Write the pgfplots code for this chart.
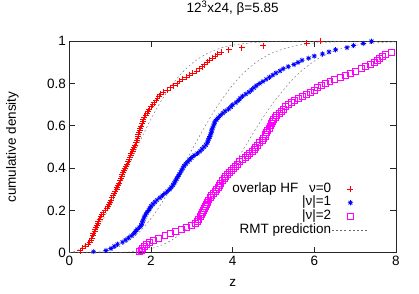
\documentclass[border=0pt]{standalone}
\usepackage{fontspec}
\setmainfont{Liberation Sans}
\usepackage{pgfplots}
\pgfplotsset{compat=1.18}
\definecolor{gpred}{RGB}{255,0,0}
\definecolor{gpblue}{RGB}{0,0,255}
\definecolor{gpmag}{RGB}{255,0,255}
\newcommand{\gpfont}{\fontsize{13.5bp}{15bp}\selectfont}
\pgfdeclareplotmark{plusx}{%
  \pgfpathmoveto{\pgfqpoint{-\pgfplotmarksize}{0pt}}\pgfpathlineto{\pgfqpoint{\pgfplotmarksize}{0pt}}%
  \pgfpathmoveto{\pgfqpoint{0pt}{-\pgfplotmarksize}}\pgfpathlineto{\pgfqpoint{0pt}{\pgfplotmarksize}}%
  \pgfpathmoveto{\pgfqpoint{-.707\pgfplotmarksize}{-.707\pgfplotmarksize}}\pgfpathlineto{\pgfqpoint{.707\pgfplotmarksize}{.707\pgfplotmarksize}}%
  \pgfpathmoveto{\pgfqpoint{-.707\pgfplotmarksize}{.707\pgfplotmarksize}}\pgfpathlineto{\pgfqpoint{.707\pgfplotmarksize}{-.707\pgfplotmarksize}}%
  \pgfusepathqstroke}
\tikzset{rmt/.style={draw=black!60, line width=0.4pt, dash pattern=on 1.8pt off 2.4pt}}
\begin{document}
\begin{tikzpicture}[font=\gpfont]
\useasboundingbox (-69.3bp,-41.3bp) rectangle (349.7bp,252.7bp);
\begin{axis}[
  scale only axis, width=326.7bp, height=211.4bp,
  xmin=0, xmax=8, ymin=0, ymax=1,
  xtick={0,2,4,6,8}, ytick={0,0.2,0.4,0.6,0.8,1},
  tick pos=both, tick align=inside, major tick length=5.5bp,
  axis line style={line width=0.8pt, black!85},
  every tick/.style={black!85, line width=0.8pt},
  tick label style={font=\gpfont},
  label style={font=\gpfont},
  /pgf/number format/assume math mode=true,
  /pgf/number format/fixed,
  title={12\textsuperscript{3}x24, β=5.85},
  title style={at={(axis description cs:0.5,1.129)}, anchor=center, inner sep=0pt, font=\gpfont},
  xlabel={z}, ylabel={cumulative density},
  every axis x label/.style={at={(axis description cs:0.5,-0.143)}, anchor=center},
  every axis y label/.style={at={(axis description cs:-0.174,0.5)}, rotate=90, anchor=center},
  legend cell align=right, legend plot pos=right,
  legend image code/.code={\draw[mark repeat=2,mark phase=2] plot coordinates {(0bp,0bp) (18.5bp,0bp) (37bp,0bp)};},
  legend style={draw=none, fill=none, at={(axis cs:7.42,0.204)}, anchor=east, font=\gpfont,
    nodes={inner sep=0.5bp, text height=9.5bp, text depth=3.2bp},
    /tikz/every even column/.append style={column sep=6bp}},
]
\addplot[forget plot, smooth, rmt, mark=none] coordinates {
(0,0)(0.25,0.0155)(0.5,0.0606)(0.75,0.1312)(1,0.2212)(1.25,0.3233)(1.5,0.4302)(1.75,0.5350)(2,0.6321)(2.25,0.7180)(2.5,0.7904)(2.75,0.8491)(3,0.8946)(3.25,0.9287)(3.5,0.9532)(3.75,0.9703)(4,0.9817)(4.5,0.9937)(5,0.9981)(5.5,0.9995)(6,0.9999)(7,1.0)(8,1.0)
};
\addplot[forget plot, smooth, rmt, mark=none] coordinates {
(0,0)(0.5,0.0010)(0.75,0.0047)(1,0.0140)(1.25,0.0321)(1.5,0.0617)(1.75,0.1047)(2,0.1614)(2.25,0.2308)(2.5,0.3104)(2.75,0.3968)(3,0.4856)(3.25,0.5729)(3.5,0.6549)(3.75,0.7289)(4,0.7930)(4.25,0.8464)(4.5,0.8894)(4.75,0.9226)(5,0.9474)(5.5,0.9778)(6,0.9917)(6.5,0.9973)(7,0.9992)(8,1.0)
};
\addplot[forget plot, smooth, rmt, mark=none] coordinates {
(0,0)(1,0.0004)(1.5,0.0040)(1.75,0.0094)(2,0.0191)(2.25,0.0350)(2.5,0.0590)(2.75,0.0926)(3,0.1365)(3.25,0.1910)(3.5,0.2552)(3.75,0.3273)(4,0.4050)(4.25,0.4852)(4.5,0.5647)(4.75,0.6408)(5,0.7108)(5.5,0.8266)(6,0.9065)(6.5,0.9548)(7,0.9805)(7.5,0.9925)(8,0.9974)
};
\addplot[only marks, mark=+, mark size=3pt, gpred, line width=0.7pt] coordinates {
(0.26,0.01)(0.33,0.02)(0.40,0.03)(0.46,0.04)(0.50,0.05)(0.53,0.06)(0.55,0.07)(0.57,0.08)(0.59,0.09)(0.62,0.10)(0.64,0.11)(0.66,0.12)(0.68,0.13)(0.70,0.14)(0.71,0.15)(0.74,0.16)(0.77,0.17)(0.79,0.18)(0.83,0.19)(0.88,0.20)(0.92,0.21)(0.95,0.22)(0.97,0.23)(1.00,0.24)(1.02,0.25)(1.04,0.26)(1.07,0.27)(1.10,0.28)(1.13,0.29)(1.16,0.30)(1.18,0.31)(1.20,0.32)(1.22,0.33)(1.24,0.34)(1.26,0.35)(1.28,0.36)(1.30,0.37)(1.32,0.38)(1.35,0.39)(1.37,0.40)(1.39,0.41)(1.41,0.42)(1.44,0.43)(1.46,0.44)(1.48,0.45)(1.50,0.46)(1.52,0.47)(1.55,0.48)(1.57,0.49)(1.59,0.50)(1.61,0.51)(1.63,0.52)(1.65,0.53)(1.67,0.54)(1.68,0.55)(1.69,0.56)(1.71,0.57)(1.72,0.58)(1.74,0.59)(1.76,0.60)(1.78,0.61)(1.80,0.62)(1.81,0.63)(1.84,0.64)(1.87,0.65)(1.90,0.66)(1.93,0.67)(1.96,0.68)(2.00,0.69)(2.04,0.70)(2.08,0.71)(2.12,0.72)(2.16,0.73)(2.20,0.74)(2.23,0.75)(2.30,0.76)(2.40,0.77)(2.48,0.78)(2.56,0.79)(2.64,0.80)(2.70,0.81)(2.78,0.82)(2.86,0.83)(2.94,0.84)(3.02,0.85)(3.12,0.86)(3.19,0.87)(3.25,0.88)(3.31,0.89)(3.37,0.90)(3.42,0.91)(3.50,0.92)(3.57,0.93)(3.63,0.94)(3.72,0.95)(3.90,0.96)(4.22,0.97)(4.75,0.98)(5.81,0.99)(6.14,1.00)
};
\addlegendentry{overlap HF\hspace{7bp} ν=0}
\addplot[only marks, mark=plusx, mark size=2.6pt, gpblue, line width=0.7pt] coordinates {
(0.59,0.005)(0.90,0.01)(1.02,0.02)(1.10,0.03)(1.18,0.04)(1.30,0.05)(1.38,0.06)(1.45,0.07)(1.52,0.08)(1.58,0.09)(1.62,0.10)(1.66,0.11)(1.72,0.12)(1.76,0.13)(1.78,0.14)(1.80,0.15)(1.82,0.16)(1.84,0.17)(1.87,0.18)(1.90,0.19)(1.94,0.20)(1.97,0.21)(2.00,0.22)(2.05,0.23)(2.10,0.24)(2.15,0.25)(2.22,0.26)(2.28,0.27)(2.34,0.28)(2.40,0.29)(2.46,0.30)(2.50,0.31)(2.54,0.32)(2.57,0.33)(2.60,0.34)(2.63,0.35)(2.66,0.36)(2.69,0.37)(2.72,0.38)(2.75,0.39)(2.78,0.40)(2.81,0.41)(2.85,0.42)(2.90,0.43)(2.95,0.44)(3.00,0.45)(3.06,0.46)(3.14,0.47)(3.20,0.48)(3.25,0.49)(3.30,0.50)(3.35,0.51)(3.38,0.52)(3.40,0.53)(3.42,0.54)(3.44,0.55)(3.46,0.56)(3.48,0.57)(3.49,0.58)(3.51,0.59)(3.53,0.60)(3.55,0.61)(3.57,0.62)(3.61,0.63)(3.65,0.64)(3.70,0.65)(3.76,0.66)(3.82,0.67)(3.90,0.68)(3.96,0.69)(4.00,0.70)(4.08,0.71)(4.14,0.72)(4.18,0.73)(4.24,0.74)(4.32,0.75)(4.40,0.76)(4.46,0.77)(4.52,0.78)(4.58,0.79)(4.66,0.80)(4.74,0.81)(4.82,0.82)(4.90,0.83)(4.98,0.84)(5.06,0.85)(5.16,0.86)(5.24,0.87)(5.36,0.88)(5.50,0.89)(5.60,0.90)(5.70,0.91)(5.86,0.92)(6.00,0.93)(6.20,0.94)(6.36,0.95)(6.52,0.96)(6.80,0.97)(6.96,0.98)(7.20,0.99)(7.40,1.00)
};
\addlegendentry{|ν|=1}
\addplot[only marks, mark=square, mark size=3pt, gpmag, line width=0.7pt] coordinates {
(1.72,0.005)(1.76,0.01)(1.80,0.02)(1.84,0.03)(1.88,0.04)(1.96,0.05)(2.06,0.06)(2.18,0.07)(2.34,0.08)(2.48,0.09)(2.60,0.10)(2.74,0.11)(2.86,0.12)(2.98,0.13)(3.08,0.14)(3.13,0.15)(3.17,0.16)(3.20,0.17)(3.23,0.18)(3.25,0.19)(3.28,0.20)(3.31,0.21)(3.33,0.22)(3.36,0.23)(3.38,0.24)(3.41,0.25)(3.45,0.26)(3.49,0.27)(3.53,0.28)(3.57,0.29)(3.61,0.30)(3.64,0.31)(3.67,0.32)(3.71,0.33)(3.75,0.34)(3.79,0.35)(3.83,0.36)(3.87,0.37)(3.92,0.38)(3.97,0.39)(4.02,0.40)(4.07,0.41)(4.12,0.42)(4.17,0.43)(4.23,0.44)(4.30,0.45)(4.36,0.46)(4.42,0.47)(4.48,0.48)(4.52,0.49)(4.55,0.50)(4.60,0.51)(4.66,0.52)(4.72,0.53)(4.76,0.54)(4.79,0.55)(4.81,0.56)(4.83,0.57)(4.86,0.58)(4.89,0.59)(4.92,0.60)(4.95,0.61)(4.97,0.62)(5.00,0.63)(5.04,0.64)(5.08,0.65)(5.14,0.66)(5.20,0.67)(5.25,0.68)(5.30,0.69)(5.36,0.70)(5.43,0.71)(5.50,0.72)(5.60,0.73)(5.70,0.74)(5.80,0.75)(5.90,0.76)(5.99,0.77)(6.08,0.78)(6.18,0.79)(6.28,0.80)(6.38,0.81)(6.50,0.82)(6.64,0.83)(6.76,0.84)(6.88,0.85)(7.00,0.86)(7.14,0.87)(7.26,0.88)(7.36,0.89)(7.46,0.90)(7.54,0.91)(7.60,0.92)(7.66,0.93)(7.74,0.94)(7.88,0.95)
};
\addlegendentry{|ν|=2}
\addlegendimage{rmt, mark=none}
\addlegendentry{RMT prediction}
\end{axis}
\end{tikzpicture}
\end{document}
